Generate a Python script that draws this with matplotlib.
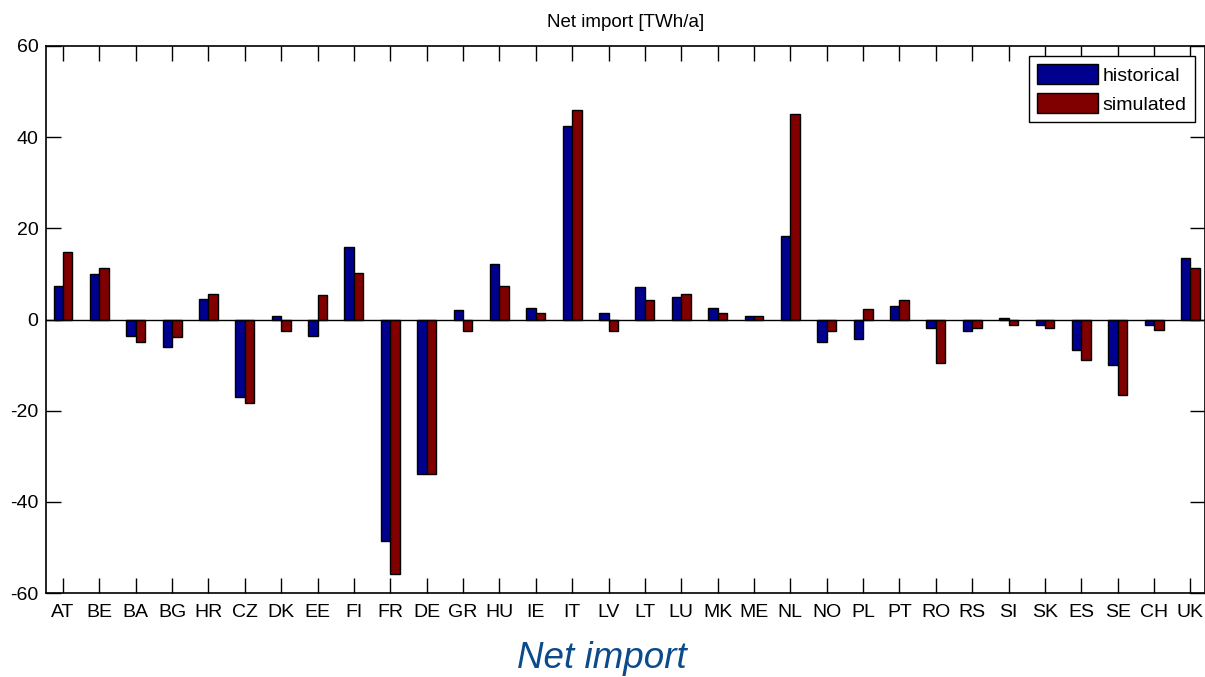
import numpy as np
import matplotlib
matplotlib.use('Agg')
import matplotlib.pyplot as plt

countries = ['AT', 'BE', 'BA', 'BG', 'HR', 'CZ', 'DK', 'EE', 'FI', 'FR', 'DE',
             'GR', 'HU', 'IE', 'IT', 'LV', 'LT', 'LU', 'MK', 'ME', 'NL', 'NO',
             'PL', 'PT', 'RO', 'RS', 'SI', 'SK', 'ES', 'SE', 'CH', 'UK']
historical = [7.4, 9.9, -3.6, -6.1, 4.6, -17.0, 0.8, -3.6, 15.9, -48.5, -33.8,
              2.1, 12.1, 2.5, 42.5, 1.4, 7.1, 5.0, 2.5, 0.7, 18.3, -5.0,
              -4.3, 2.9, -1.8, -2.6, 0.4, -1.1, -6.7, -9.9, -1.1, 13.4]
simulated = [14.8, 11.25, -5.0, -3.9, 5.6, -18.4, -2.6, 5.3, 10.2, -55.9, -33.8,
             -2.5, 7.4, 1.4, 46.0, -2.5, 4.3, 5.7, 1.4, 0.7, 45.0, -2.5,
             2.2, 4.3, -9.5, -1.8, -1.1, -1.8, -8.9, -16.5, -2.2, 11.25]
yticks = [-60, -40, -20, 0, 20, 40, 60]

plt.rcParams['font.family'] = ['Liberation Sans', 'DejaVu Sans']
plt.rcParams['axes.unicode_minus'] = False

fig = plt.figure(figsize=(12.05, 6.77), dpi=100)
fig.patch.set_facecolor('white')
ax = fig.add_axes([45.5 / 1205, 1 - 593 / 677, (1205 - 45.5) / 1205, (593 - 46) / 677])

x = np.arange(1, len(countries) + 1)
w = 0.26
ax.bar(x - w / 2, historical, w, color='#00008F', edgecolor='black', lw=1.0,
       label='historical', zorder=2)
ax.bar(x + w / 2, simulated, w, color='#800000', edgecolor='black', lw=1.0,
       label='simulated', zorder=2)
ax.axhline(0, color='black', lw=1.0, zorder=3)

ax.set_xlim(0.52, 32.4)
ax.set_ylim(-60, 60)
ax.set_xticks(x)
ax.set_xticklabels(countries)
ax.set_yticks(yticks)
ax.tick_params(direction='in', length=11, width=1, top=True, right=True,
               labelsize=14, colors='black')
ax.tick_params(axis='x', pad=8)
ax.tick_params(axis='y', pad=5)
for s in ax.spines.values():
    s.set_linewidth(1.2)

ax.set_title('Net import [TWh/a]', fontsize=13.5, pad=14)

leg = ax.legend(loc='upper right', fontsize=14, fancybox=False,
                edgecolor='black', framealpha=1, handlelength=3.1,
                handleheight=1.15, handletextpad=0.25, borderpad=0.45,
                labelspacing=0.45, borderaxespad=0.5)
leg.get_frame().set_linewidth(1.0)

fig.text(602 / 1205, 1 - 658 / 677, 'Net import', ha='center', va='center',
         fontsize=26.5, style='italic', color='#0B4A8B')

plt.savefig('out.png', dpi=100, facecolor='white')
